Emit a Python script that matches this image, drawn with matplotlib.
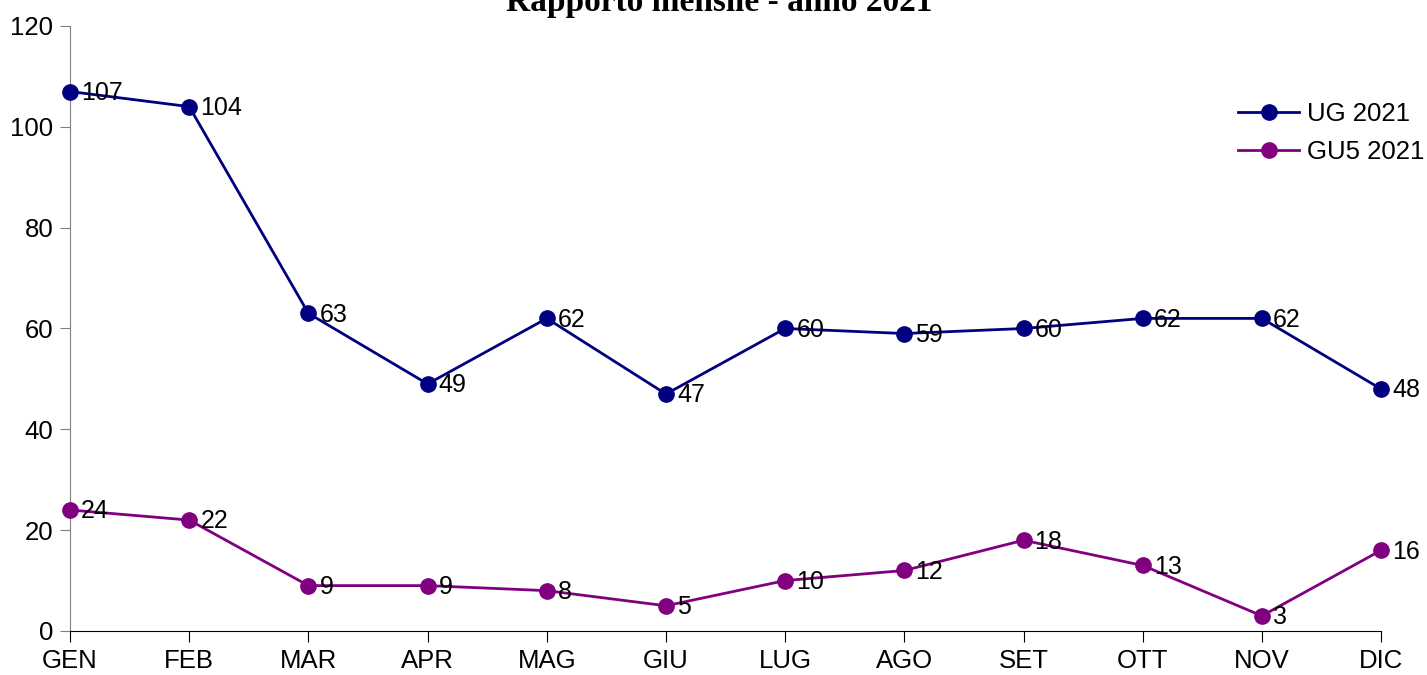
import matplotlib.pyplot as plt

mesi = ['GEN', 'FEB', 'MAR', 'APR', 'MAG', 'GIU', 'LUG', 'AGO', 'SET', 'OTT', 'NOV', 'DIC']
ug_2021 = [107, 104, 63, 49, 62, 47, 60, 59, 60, 62, 62, 48]
gu5_2021 = [24, 22, 9, 9, 8, 5, 10, 12, 18, 13, 3, 16]

plt.rcParams['font.family'] = ['Liberation Sans', 'DejaVu Sans']

fig = plt.figure(figsize=(14.27, 6.75), dpi=100)
ax = fig.add_axes([0.0491, 0.0652, 0.9187, 0.8963])

x = range(len(mesi))
serie = [(ug_2021, '#000080', 'UG 2021'), (gu5_2021, '#800080', 'GU5 2021')]
for valori, colore, nome in serie:
    ax.plot(x, valori, color=colore, lw=2, marker='o', ms=11,
            label=nome, clip_on=False, zorder=3)
    for i, v in zip(x, valori):
        ax.annotate(str(v), (i, v), xytext=(8, -1), textcoords='offset points',
                    va='center', ha='left', fontsize=18, zorder=4)

ax.set_xlim(0, len(mesi) - 1)
ax.set_ylim(0, 120)
ax.set_yticks(range(0, 121, 20))
ax.set_xticks(list(x))
ax.set_xticklabels(mesi)
ax.tick_params(axis='both', labelsize=18.5)
ax.tick_params(axis='y', length=7, color='#808080', pad=5)
ax.tick_params(axis='x', length=8, color='black', pad=5)

for lato in ('top', 'right'):
    ax.spines[lato].set_visible(False)
ax.spines['left'].set_color('#808080')
ax.spines['bottom'].set_color('black')

ax.legend(loc='upper left', bbox_to_anchor=(0.873, 0.912), frameon=False,
          fontsize=18.5, handlelength=2.4, labelspacing=0.55, handletextpad=0.3)

fig.text(0.504, 1 - 11 / 675, 'Rapporto mensile - anno 2021', ha='center',
         va='baseline', fontsize=24, fontweight='bold', family='Liberation Serif')

fig.savefig('out.png', dpi=100)
